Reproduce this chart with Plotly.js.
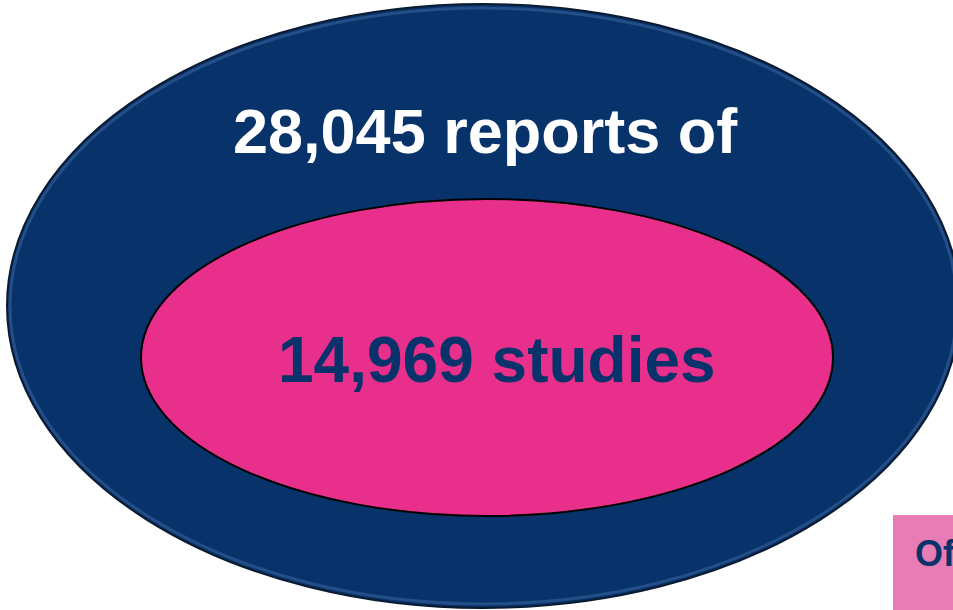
<!DOCTYPE html>
<html>
<head>
<meta charset="utf-8">
<script src="https://cdn.plot.ly/plotly-3.0.1.min.js"></script>
<style>html,body{margin:0;padding:0;background:#fff;}#chart{width:953px;height:610px;}</style>
</head>
<body>
<div id="chart"></div>
<script>
// Data
const counts = [28045, 14969];
const labels = ["reports of", "studies"];
const sideLabel = ["Of"];

const navy = "#08336A";
const pink = "#E92F8C";
const boxPink = "#E87CB4";

function fmt(n) { return n.toLocaleString("en-US"); }

const layout = {
  width: 953, height: 610,
  margin: {l: 0, r: 0, t: 0, b: 0},
  paper_bgcolor: "#ffffff", plot_bgcolor: "#ffffff",
  showlegend: false,
  xaxis: {range: [0, 953], visible: false, fixedrange: true},
  yaxis: {range: [610, 0], visible: false, fixedrange: true},
  shapes: [
    {type: "circle", xref: "x", yref: "y", x0: 7, x1: 960, y0: 4, y1: 608,
     fillcolor: navy, line: {color: "#0a1a30", width: 2}, layer: "below"},
    {type: "circle", xref: "x", yref: "y", x0: 10, x1: 957, y0: 8, y1: 604,
     fillcolor: "rgba(0,0,0,0)", line: {color: "rgba(90,130,190,0.35)", width: 3}, layer: "below"},
    {type: "circle", xref: "x", yref: "y", x0: 141, x1: 833, y0: 199, y1: 516,
     fillcolor: pink, line: {color: "#000000", width: 2}, layer: "below"},
    {type: "rect", xref: "x", yref: "y", x0: 893, x1: 960, y0: 515, y1: 615,
     fillcolor: boxPink, line: {width: 0}, layer: "below"}
  ],
  annotations: [
    {x: 485, y: 131, xref: "x", yref: "y", showarrow: false,
     text: "<b>" + fmt(counts[0]) + " " + labels[0] + "</b>",
     font: {family: "Liberation Sans, Arial, sans-serif", size: 63, color: "#ffffff"},
     xanchor: "center", yanchor: "middle"},
    {x: 497, y: 360, xref: "x", yref: "y", showarrow: false,
     text: "<b>" + fmt(counts[1]) + " " + labels[1] + "</b>",
     font: {family: "Liberation Sans, Arial, sans-serif", size: 64, color: navy},
     xanchor: "center", yanchor: "middle"},
    {x: 913, y: 553, xref: "x", yref: "y", showarrow: false,
     text: "<b>" + sideLabel[0] + "</b>",
     font: {family: "Liberation Sans, Arial, sans-serif", size: 36, color: navy},
     xanchor: "left", yanchor: "middle"}
  ]
};

Plotly.newPlot("chart", [], layout, {staticPlot: true, displayModeBar: false});
</script>
</body>
</html>
